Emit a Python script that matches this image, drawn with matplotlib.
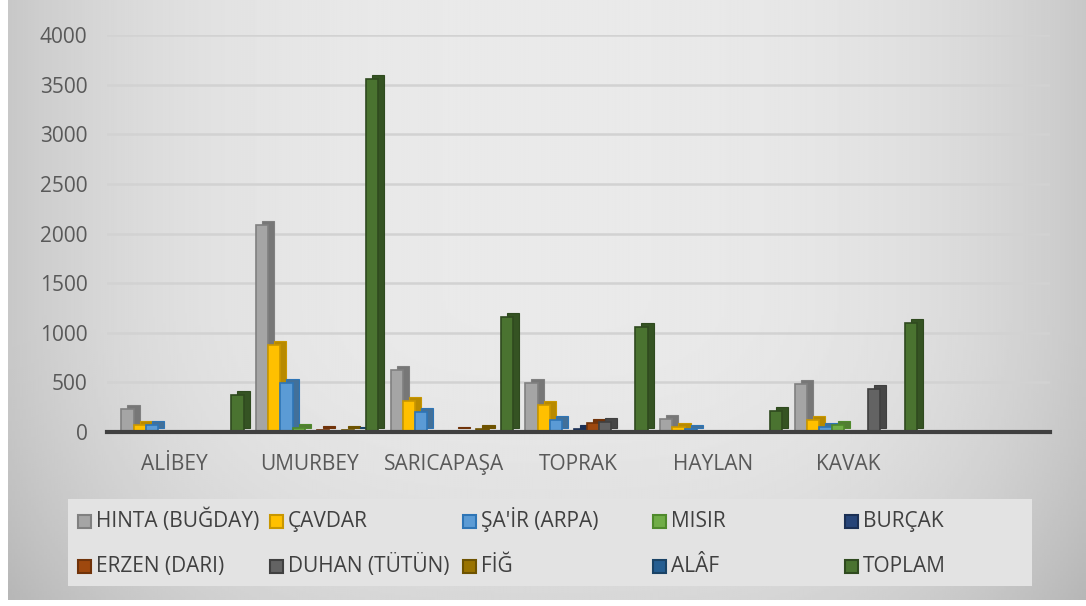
import numpy as np
import matplotlib
matplotlib.use("Agg")
from matplotlib import pyplot as plt
from matplotlib.patches import Rectangle
from matplotlib.transforms import ScaledTranslation

plt.rcParams['font.family'] = ['Open Sans', 'DejaVu Sans']

# data
villages = ["ALİBEY", "UMURBEY", "SARICAPAŞA", "TOPRAK", "HAYLAN", "KAVAK"]

hinta  = [230, 2090, 625, 490, 130, 480]
cavdar = [70, 880, 315, 270, 50, 120]
sair   = [70, 490, 200, 125, 35, 50]
misir  = [0, 40, 0, 0, 0, 70]
burcak = [0, 0, 0, 30, 0, 0]
erzen  = [0, 25, 15, 90, 0, 0]
duhan  = [0, 0, 0, 100, 0, 430]
fig_v  = [0, 25, 35, 0, 0, 0]
alaf   = [0, 10, 0, 0, 0, 0]
toplam = [370, 3560, 1160, 1060, 215, 1100]

labels = ["HINTA (BUĞDAY)", "ÇAVDAR", "ŞA'İR (ARPA)", "MISIR", "BURÇAK",
          "ERZEN (DARI)", "DUHAN (TÜTÜN)", "FİĞ", "ALÂF", "TOPLAM"]
series = [hinta, cavdar, sair, misir, burcak, erzen, duhan, fig_v, alaf, toplam]

colors = ["#a5a5a5", "#ffc000", "#5b9bd5", "#70ad47", "#264478",
          "#9e480e", "#636363", "#997300", "#255e91", "#4a7330"]
edges  = ["#808080", "#c99700", "#2e75b6", "#4f8a2c", "#1a2f54",
          "#70330a", "#404040", "#6e5300", "#1a4366", "#2f4a1f"]

text_col = "#595959"

W, H = 1086, 606
fig = plt.figure(figsize=(W / 100, H / 100), dpi=100, facecolor="white")

# grey chart-area gradient
bg = fig.add_axes([8 / W, 6 / H, 1 - 8 / W, 1 - 6 / H], zorder=-10)
gx, gy = np.meshgrid(np.linspace(-1, 1, 400), np.linspace(-1, 1, 300))
grad = 0.915 - 0.13 * np.abs(gx) ** 3 - 0.07 * np.clip(gy, 0, None) ** 2
bg.imshow(grad, cmap="gray", vmin=0, vmax=1, aspect="auto",
          extent=[0, 1, 0, 1], origin="upper", interpolation="bilinear")
bg.set_axis_off()

# legend box
fig.patches.append(Rectangle((68 / W, 1 - 586 / H), 964 / W, 87 / H,
                             transform=fig.transFigure, facecolor="#e3e3e3",
                             edgecolor="none", zorder=-5))

ax = fig.add_axes([107 / W, 1 - 432 / H, 943 / W, 397 / H])
ax.patch.set_alpha(0)

x = np.arange(len(villages))
step = 0.0907
depth = ScaledTranslation(6 / fig.dpi, 4 / fig.dpi, fig.dpi_scale_trans)

for i, vals in enumerate(series):
    v = np.array(vals, dtype=float)
    m = v > 0
    pos = x[m] + 0.06 + (i - 4.5) * step
    side = tuple(c * 0.72 for c in matplotlib.colors.to_rgb(colors[i]))
    ax.bar(pos, v[m], width=step, color=side, edgecolor=edges[i], linewidth=0.8,
           transform=ax.transData + depth, zorder=2)
    ax.bar(pos, v[m], width=step, color=colors[i], edgecolor=edges[i],
           linewidth=1.2, zorder=3, label=labels[i])

ax.set_xlim(-0.5, 6.5)
ax.set_ylim(0, 4000)
ax.set_yticks(np.arange(0, 4001, 500))
ax.set_xticks(x)
ax.set_xticklabels(villages)
ax.tick_params(axis="both", length=0, labelsize=15, labelcolor=text_col)
ax.tick_params(axis="x", pad=16)
ax.tick_params(axis="y", pad=14)
ax.grid(axis="y", color="#d2d2d2", linewidth=1.8, zorder=0)
ax.set_axisbelow(True)
for s in ["top", "right", "left"]:
    ax.spines[s].set_visible(False)
ax.spines["bottom"].set_color("#404040")
ax.spines["bottom"].set_linewidth(3)
ax.spines["bottom"].set_zorder(4)

# legend: 5 columns x 2 rows, laid out like the Excel legend
col_x = [78, 270, 463, 653, 845]
row_y = [521, 566]
sq = 13
for i, lab in enumerate(labels):
    r, c = divmod(i, 5)
    x0, yc = col_x[c], row_y[r]
    fig.patches.append(Rectangle((x0 / W, 1 - (yc + sq / 2) / H), sq / W, sq / H,
                                 transform=fig.transFigure,
                                 facecolor=colors[i], edgecolor=edges[i],
                                 linewidth=1.5))
    fig.text((x0 + sq + 5) / W, 1 - (yc + 6) / H, lab, fontsize=15,
             color="#404040", va="baseline", ha="left")

fig.savefig("out.png", dpi=100)
